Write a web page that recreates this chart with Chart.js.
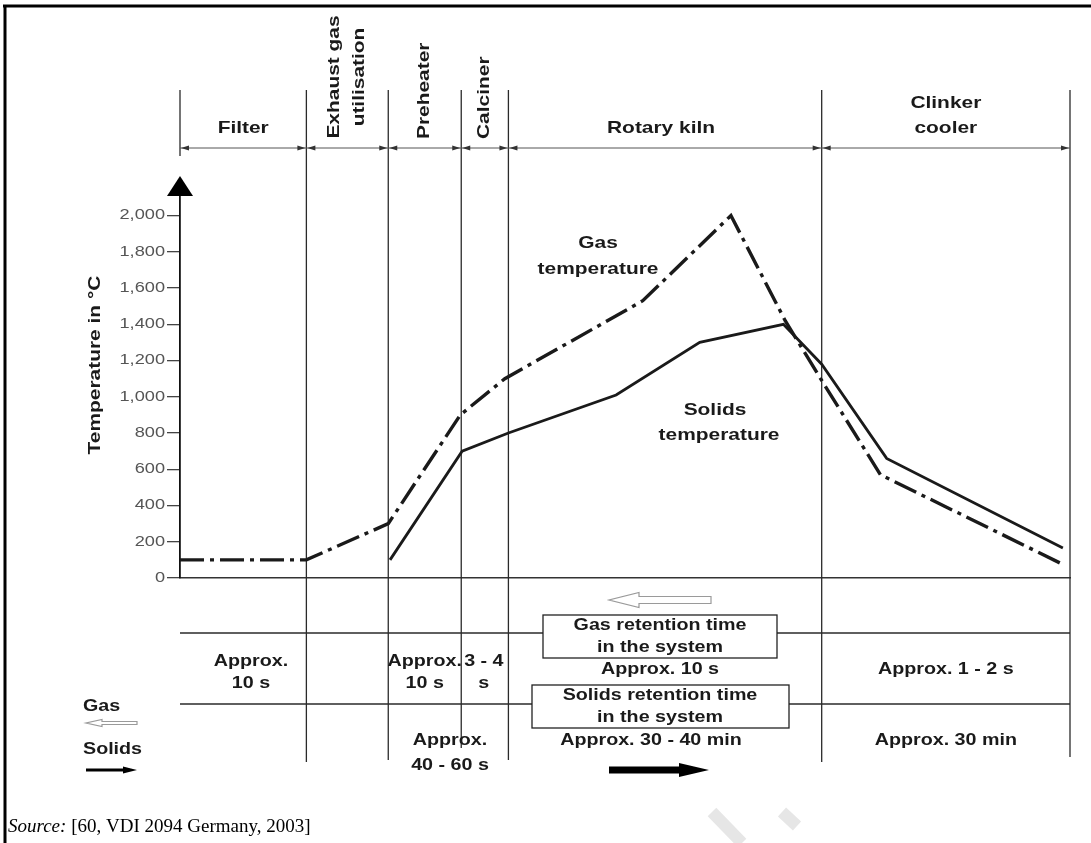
<!DOCTYPE html>
<html>
<head>
<meta charset="utf-8">
<script src="https://cdn.jsdelivr.net/npm/chart.js@4/dist/chart.umd.min.js"></script>
<style>
  html, body { margin: 0; padding: 0; background: #fff; }
  #wrap { width: 1091px; height: 843px; position: relative; }
</style>
</head>
<body>
<div id="wrap"><canvas id="chart"></canvas></div>
<script>
// process sections along the plant, x in % of the drawn length
const sections = ['Filter', 'Exhaust gas utilisation', 'Preheater', 'Calciner', 'Rotary kiln', 'Clinker cooler'];
const sectionEdges = [0, 14.2, 23.4, 31.6, 36.9, 72.1, 100];

// gas temperature (dash-dot)
const gasPos = [0, 14.2, 23.4, 31.5, 36.5, 52.0, 61.9, 68.0, 72.1, 78.7, 99.2];
const gasTemp = [100, 100, 300, 900, 1100, 1530, 2000, 1420, 1090, 570, 75];

// solids temperature (solid)
const solidsPos = [23.6, 31.7, 36.9, 49.0, 58.4, 67.8, 72.1, 79.4, 99.2];
const solidsTemp = [100, 700, 800, 1010, 1300, 1400, 1180, 660, 165];

const tempTicks = [0, 200, 400, 600, 800, 1000, 1200, 1400, 1600, 1800, 2000];

// retention times per section (table under the chart)
const gasRetention = ['Approx.|10 s', '', 'Approx.|10 s', '3 - 4|s', 'Approx. 10 s', 'Approx. 1 - 2 s'];
const solidsRetention = ['', '', 'Approx.|40 - 60 s', '', 'Approx. 30 - 40 min', 'Approx. 30 min'];

const INK = '#1a1a1a';
const SX = 1.23; // the figure lettering is wide
const SANS = '"Liberation Sans", Arial, sans-serif';

function label(ctx, text, x, y, o = {}) {
  ctx.save();
  ctx.translate(x, y);
  if (o.rotate) ctx.rotate(-Math.PI / 2);
  ctx.scale(o.sx || SX, 1);
  ctx.font = (o.weight || 'bold') + ' ' + (o.size || 16) + 'px ' + (o.family || SANS);
  ctx.fillStyle = o.color || INK;
  ctx.textAlign = o.align || 'center';
  ctx.textBaseline = 'middle';
  ctx.fillText(text, 0, 0);
  ctx.restore();
}

function twoLines(ctx, text, x, y, gap, o) {
  const parts = text.split('|');
  parts.forEach((p, i) => label(ctx, p, x, y + i * gap, o));
}

function line(ctx, x1, y1, x2, y2, w, c) {
  ctx.beginPath();
  ctx.moveTo(x1, y1);
  ctx.lineTo(x2, y2);
  ctx.lineWidth = w;
  ctx.strokeStyle = c;
  ctx.stroke();
}

function arrow(ctx, x1, x2, y, shaft, head, headLen, fill) {
  // arrow from x1 to x2 (tip at x2)
  const d = x2 > x1 ? 1 : -1;
  const hb = x2 - d * headLen;
  ctx.beginPath();
  ctx.moveTo(x1, y - shaft / 2);
  ctx.lineTo(hb, y - shaft / 2);
  ctx.lineTo(hb, y - head / 2);
  ctx.lineTo(x2, y);
  ctx.lineTo(hb, y + head / 2);
  ctx.lineTo(hb, y + shaft / 2);
  ctx.lineTo(x1, y + shaft / 2);
  ctx.closePath();
  if (fill) {
    ctx.fillStyle = fill;
    ctx.fill();
  } else {
    ctx.lineWidth = 1.2;
    ctx.strokeStyle = '#9a9a9a';
    ctx.stroke();
  }
}

const frame = {
  id: 'frame',
  beforeDatasetsDraw(chart) {
    const { ctx } = chart;
    const xs = chart.scales.x;
    const px = sectionEdges.map((e) => xs.getPixelForValue(e));
    ctx.save();
    // page border
    line(ctx, 3, 6, 1091, 6, 3, '#000');
    line(ctx, 5, 5, 5, 843, 3, '#000');
    // section boundaries
    const ends = [156, 762, 760, 748, 760, 762, 757];
    px.forEach((x, i) => line(ctx, x, 90, x, ends[i], 1.3, '#2a2a2a'));
    // dimension line of the header
    line(ctx, px[0], 148, px[px.length - 1], 148, 1, '#555');
    ctx.fillStyle = '#333';
    for (let i = 0; i < px.length - 1; i++) {
      [[px[i] + 1, 1], [px[i + 1] - 1, -1]].forEach(([x, d]) => {
        ctx.beginPath();
        ctx.moveTo(x, 148);
        ctx.lineTo(x + d * 8, 145.5);
        ctx.lineTo(x + d * 8, 150.5);
        ctx.closePath();
        ctx.fill();
      });
    }
    // axis arrow head
    const y0 = chart.chartArea.top;
    ctx.beginPath();
    ctx.moveTo(px[0], 176);
    ctx.lineTo(px[0] - 13, y0 + 4);
    ctx.lineTo(px[0] + 13, y0 + 4);
    ctx.closePath();
    ctx.fillStyle = '#000';
    ctx.fill();
    // table rows
    line(ctx, px[0], 633, px[px.length - 1], 633, 1.6, '#2a2a2a');
    line(ctx, px[0], 704, px[px.length - 1], 704, 1.6, '#2a2a2a');
    ctx.restore();
  },
  afterDraw(chart) {
    const { ctx } = chart;
    const xs = chart.scales.x;
    const ys = chart.scales.y;
    const px = sectionEdges.map((e) => xs.getPixelForValue(e));
    const mid = (i) => (px[i] + px[i + 1]) / 2;
    ctx.save();

    // y tick labels
    tempTicks.forEach((t) => {
      label(ctx, t.toLocaleString('en-US'), px[0] - 15, ys.getPixelForValue(t), { size: 14, align: 'right', color: '#555', weight: 'normal', sx: 1.3 });
    });
    label(ctx, 'Temperature in °C', 95, 365, { size: 17, rotate: true });

    // header
    label(ctx, sections[0], mid(0), 128, { size: 17 });
    label(ctx, 'Exhaust gas', mid(1) - 13, 77, { size: 17, rotate: true });
    label(ctx, 'utilisation', mid(1) + 12, 77, { size: 17, rotate: true });
    label(ctx, sections[2], mid(2), 139, { size: 17, rotate: true, align: 'left' });
    label(ctx, sections[3], mid(3) - 1, 139, { size: 17, rotate: true, align: 'left' });
    label(ctx, sections[4], mid(4) - 4, 128, { size: 17 });
    label(ctx, 'Clinker', mid(5), 103, { size: 17 });
    label(ctx, 'cooler', mid(5), 128, { size: 17 });

    // curve labels
    label(ctx, 'Gas', 598, 243, { size: 17 });
    label(ctx, 'temperature', 598, 269, { size: 17 });
    label(ctx, 'Solids', 715, 410, { size: 17 });
    label(ctx, 'temperature', 719, 435, { size: 17 });

    // boxes of the table
    ctx.lineWidth = 1.3;
    ctx.strokeStyle = '#222';
    ctx.fillStyle = '#fff';
    ctx.fillRect(543, 615, 234, 43);
    ctx.strokeRect(543, 615, 234, 43);
    ctx.fillRect(532, 685, 257, 43);
    ctx.strokeRect(532, 685, 257, 43);
    label(ctx, 'Gas retention time', 660, 626, { size: 16 });
    label(ctx, 'in the system', 660, 648, { size: 16 });
    label(ctx, 'Solids retention time', 660, 696, { size: 16 });
    label(ctx, 'in the system', 660, 718, { size: 16 });

    // retention times
    const gasX = [251, 0, mid(2), mid(3) - 1, 660, mid(5)];
    gasRetention.forEach((s, i) => {
      if (!s) return;
      if (s.includes('|')) twoLines(ctx, s, gasX[i], 662, 22, { size: 16 });
      else label(ctx, s, gasX[i], 670, { size: 16 });
    });
    const solX = [0, 0, 450, 0, 651, mid(5)];
    solidsRetention.forEach((s, i) => {
      if (!s) return;
      if (s.includes('|')) twoLines(ctx, s, solX[i], 741, 25, { size: 16 });
      else label(ctx, s, solX[i], 741, { size: 16 });
    });

    // flow arrows
    arrow(ctx, 711, 609, 600, 7, 15, 30, null);
    arrow(ctx, 609, 709, 770, 7, 14, 30, '#000');
    label(ctx, 'Gas', 83, 707, { size: 16, align: 'left' });
    arrow(ctx, 137, 86, 723, 3, 7, 16, null);
    label(ctx, 'Solids', 83, 750, { size: 16, align: 'left' });
    arrow(ctx, 86, 137, 770, 3, 7, 14, '#000');

    // watermark traces
    line(ctx, 712, 812, 742, 843, 12, '#e6e6e6');
    line(ctx, 782, 812, 797, 826, 12, '#e6e6e6');

    // source
    ctx.font = 'italic 19px "Liberation Serif", "Times New Roman", serif';
    ctx.fillStyle = '#000';
    ctx.textAlign = 'left';
    ctx.textBaseline = 'middle';
    ctx.fillText('Source:', 8, 827);
    const w = ctx.measureText('Source: ').width;
    ctx.font = '19px "Liberation Serif", "Times New Roman", serif';
    ctx.fillText('[60, VDI 2094 Germany, 2003]', 8 + w, 827);
    ctx.restore();
  },
};

new Chart(document.getElementById('chart'), {
  type: 'line',
  data: {
    datasets: [
      {
        label: 'Gas temperature',
        data: gasPos.map((x, i) => ({ x, y: gasTemp[i] })),
        borderColor: INK,
        borderWidth: 3.4,
        borderDash: [24, 6, 4, 6],
        pointRadius: 0,
        tension: 0,
      },
      {
        label: 'Solids temperature',
        data: solidsPos.map((x, i) => ({ x, y: solidsTemp[i] })),
        borderColor: INK,
        borderWidth: 2.8,
        pointRadius: 0,
        tension: 0,
      },
    ],
  },
  options: {
    animation: false,
    responsive: true,
    maintainAspectRatio: false,
    devicePixelRatio: 1,
    layout: { padding: { left: 0, right: 21, top: 192, bottom: 265 } },
    plugins: { legend: { display: false }, tooltip: { enabled: false } },
    scales: {
      x: {
        type: 'linear',
        min: 0,
        max: 100,
        grid: { display: false },
        ticks: { display: false },
        border: { display: true, color: '#333', width: 1.5 },
        afterFit: (s) => { s.height = 0; },
      },
      y: {
        min: 0,
        max: 2130,
        afterBuildTicks: (s) => { s.ticks = tempTicks.map((v) => ({ value: v })); },
        ticks: { color: 'rgba(0,0,0,0)', font: { size: 14 } },
        grid: { drawOnChartArea: false, drawTicks: true, tickLength: 13, color: '#444', lineWidth: 1.3 },
        border: { display: true, color: '#111', width: 1.8 },
        afterFit: (s) => { s.width = 180; },
      },
    },
  },
  plugins: [frame],
});
</script>
</body>
</html>
